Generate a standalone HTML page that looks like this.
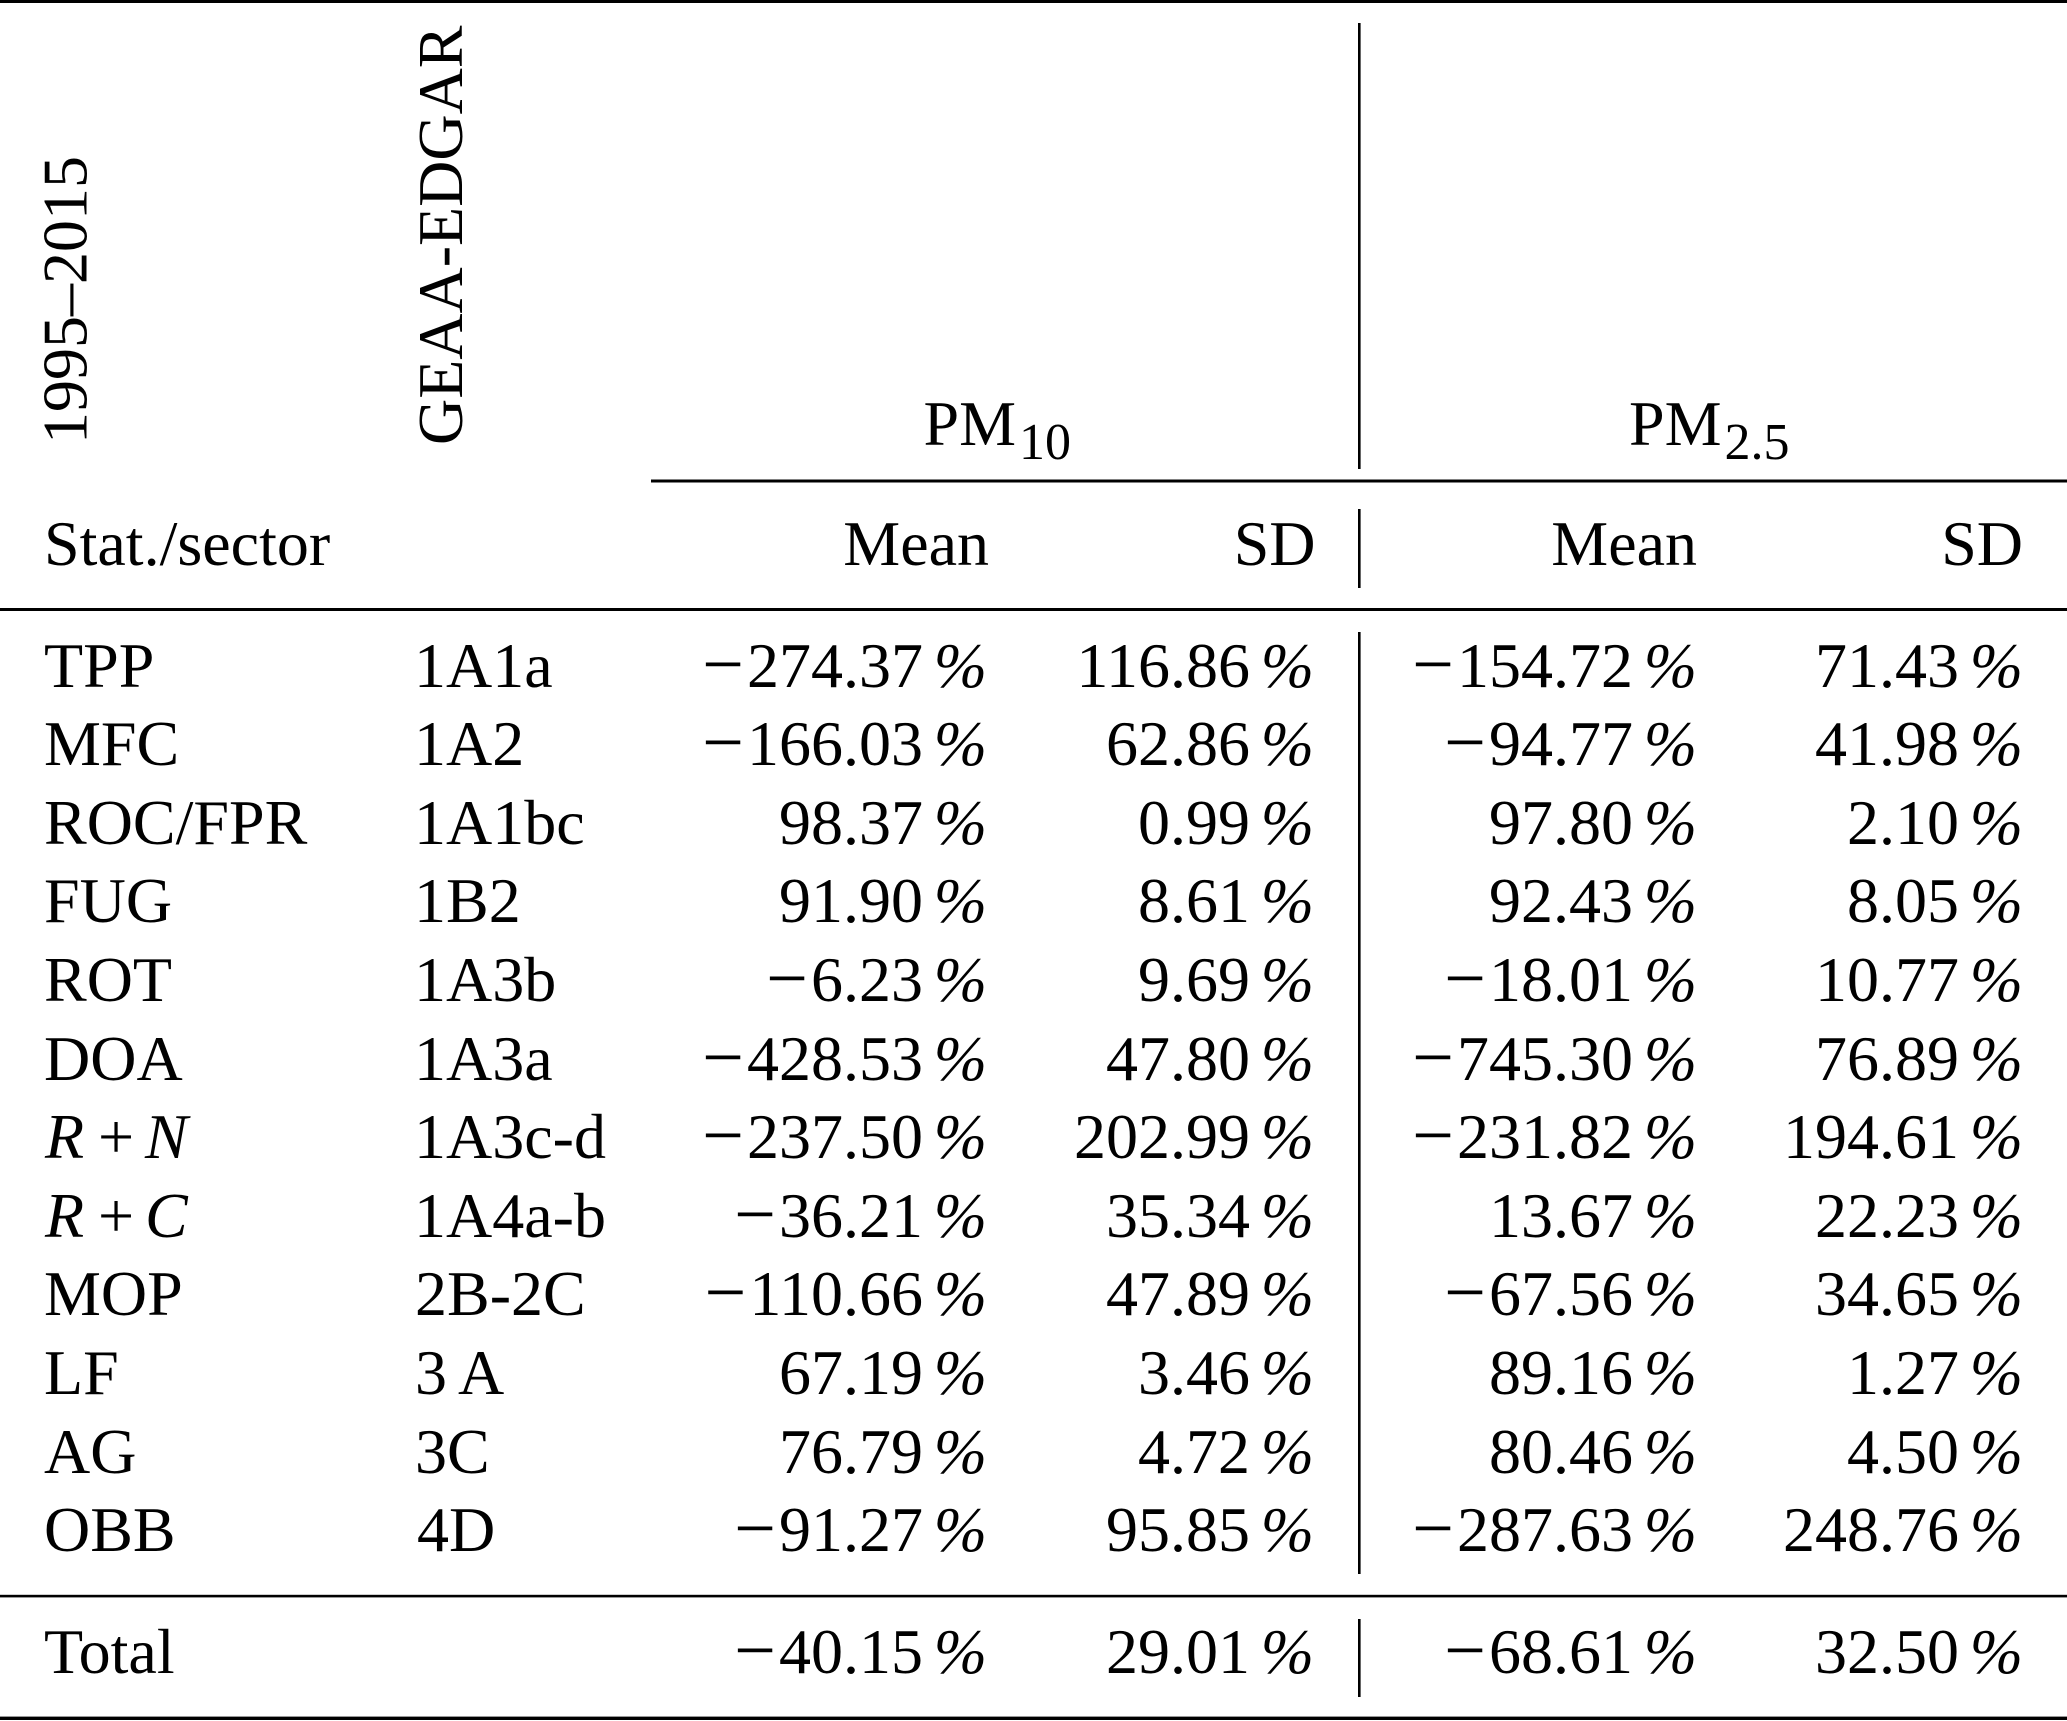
<!DOCTYPE html>
<html>
<head>
<meta charset="utf-8">
<style>
  html, body { margin: 0; padding: 0; background: #fff; }
  svg { display: block; }
  text { font-family: "Liberation Serif", "Times New Roman", serif; font-size: 64px; fill: #000; }
  .e { text-anchor: end; }
  .p { text-anchor: end; font-style: italic; }
  .i { font-style: italic; }
  .m { font-size: 74px; }
</style>
</head>
<body>
<svg width="2067" height="1721" viewBox="0 0 2067 1721" xmlns="http://www.w3.org/2000/svg">
  <!-- rules -->
  <rect x="0" y="0" width="2067" height="3" fill="#000"/>
  <rect x="651" y="479.5" width="1416" height="3" fill="#000"/>
  <rect x="0" y="608" width="2067" height="3" fill="#000"/>
  <rect x="0" y="1594.8" width="2067" height="2.6" fill="#000"/>
  <rect x="0" y="1716.6" width="2067" height="3.4" fill="#000"/>

  <!-- vertical separators -->
  <rect x="1358" y="23" width="2.6" height="446" fill="#000"/>
  <rect x="1358" y="509" width="2.6" height="79" fill="#000"/>
  <rect x="1358" y="632" width="2.6" height="942" fill="#000"/>
  <rect x="1358" y="1619" width="2.6" height="78" fill="#000"/>

  <!-- rotated headers -->
  <text transform="translate(86.7,444) rotate(-90)">1995–2015</text>
  <text transform="translate(462,445) rotate(-90)">GEAA-EDGAR</text>

  <!-- PM headers -->
  <text x="923.5" y="445">PM<tspan dx="3" dy="14" font-size="52">10</tspan></text>
  <text x="1629" y="445">PM<tspan dx="3" dy="14" font-size="52">2.5</tspan></text>

  <!-- column headers -->
  <text x="44" y="565">Stat./sector</text>
  <text class="e" x="989" y="565">Mean</text>
  <text class="e" x="1315.5" y="565">SD</text>
  <text class="e" x="1697" y="565">Mean</text>
  <text class="e" x="2023" y="565">SD</text>

  <!-- Row 1 TPP y=687 -->
  <text x="44" y="687">TPP</text>
  <text x="414" y="687">1A1a</text>
  <text class="e" x="923" y="687"><tspan class="m" dy="2">−</tspan><tspan dx="3" dy="-2">274.37</tspan></text><text class="p" x="987" y="687">%</text>
  <text class="e" x="1250" y="687">116.86</text><text class="p" x="1314" y="687">%</text>
  <text class="e" x="1633" y="687"><tspan class="m" dy="2">−</tspan><tspan dx="3" dy="-2">154.72</tspan></text><text class="p" x="1697" y="687">%</text>
  <text class="e" x="1959" y="687">71.43</text><text class="p" x="2023" y="687">%</text>

  <!-- Row 2 MFC y=765 -->
  <text x="44" y="765">MFC</text>
  <text x="414" y="765">1A2</text>
  <text class="e" x="923" y="765"><tspan class="m" dy="2">−</tspan><tspan dx="3" dy="-2">166.03</tspan></text><text class="p" x="987" y="765">%</text>
  <text class="e" x="1250" y="765">62.86</text><text class="p" x="1314" y="765">%</text>
  <text class="e" x="1633" y="765"><tspan class="m" dy="2">−</tspan><tspan dx="3" dy="-2">94.77</tspan></text><text class="p" x="1697" y="765">%</text>
  <text class="e" x="1959" y="765">41.98</text><text class="p" x="2023" y="765">%</text>

  <!-- Row 3 ROC/FPR y=844 -->
  <text x="44" y="844">ROC/FPR</text>
  <text x="414" y="844">1A1bc</text>
  <text class="e" x="923" y="844">98.37</text><text class="p" x="987" y="844">%</text>
  <text class="e" x="1250" y="844">0.99</text><text class="p" x="1314" y="844">%</text>
  <text class="e" x="1633" y="844">97.80</text><text class="p" x="1697" y="844">%</text>
  <text class="e" x="1959" y="844">2.10</text><text class="p" x="2023" y="844">%</text>

  <!-- Row 4 FUG y=922 -->
  <text x="44" y="922">FUG</text>
  <text x="414" y="922">1B2</text>
  <text class="e" x="923" y="922">91.90</text><text class="p" x="987" y="922">%</text>
  <text class="e" x="1250" y="922">8.61</text><text class="p" x="1314" y="922">%</text>
  <text class="e" x="1633" y="922">92.43</text><text class="p" x="1697" y="922">%</text>
  <text class="e" x="1959" y="922">8.05</text><text class="p" x="2023" y="922">%</text>

  <!-- Row 5 ROT y=1001 -->
  <text x="44" y="1001">ROT</text>
  <text x="414" y="1001">1A3b</text>
  <text class="e" x="923" y="1001"><tspan class="m" dy="2">−</tspan><tspan dx="3" dy="-2">6.23</tspan></text><text class="p" x="987" y="1001">%</text>
  <text class="e" x="1250" y="1001">9.69</text><text class="p" x="1314" y="1001">%</text>
  <text class="e" x="1633" y="1001"><tspan class="m" dy="2">−</tspan><tspan dx="3" dy="-2">18.01</tspan></text><text class="p" x="1697" y="1001">%</text>
  <text class="e" x="1959" y="1001">10.77</text><text class="p" x="2023" y="1001">%</text>

  <!-- Row 6 DOA y=1080 -->
  <text x="44" y="1080">DOA</text>
  <text x="414" y="1080">1A3a</text>
  <text class="e" x="923" y="1080"><tspan class="m" dy="2">−</tspan><tspan dx="3" dy="-2">428.53</tspan></text><text class="p" x="987" y="1080">%</text>
  <text class="e" x="1250" y="1080">47.80</text><text class="p" x="1314" y="1080">%</text>
  <text class="e" x="1633" y="1080"><tspan class="m" dy="2">−</tspan><tspan dx="3" dy="-2">745.30</tspan></text><text class="p" x="1697" y="1080">%</text>
  <text class="e" x="1959" y="1080">76.89</text><text class="p" x="2023" y="1080">%</text>

  <!-- Row 7 R+N y=1158 -->
  <text class="i" x="45" y="1158">R</text>
  <text x="98" y="1158">+</text>
  <text class="i" x="145" y="1158">N</text>
  <text x="414" y="1158">1A3c-d</text>
  <text class="e" x="923" y="1158"><tspan class="m" dy="2">−</tspan><tspan dx="3" dy="-2">237.50</tspan></text><text class="p" x="987" y="1158">%</text>
  <text class="e" x="1250" y="1158">202.99</text><text class="p" x="1314" y="1158">%</text>
  <text class="e" x="1633" y="1158"><tspan class="m" dy="2">−</tspan><tspan dx="3" dy="-2">231.82</tspan></text><text class="p" x="1697" y="1158">%</text>
  <text class="e" x="1959" y="1158">194.61</text><text class="p" x="2023" y="1158">%</text>

  <!-- Row 8 R+C y=1237 -->
  <text class="i" x="45" y="1237">R</text>
  <text x="98" y="1237">+</text>
  <text class="i" x="145" y="1237">C</text>
  <text x="414" y="1237">1A4a-b</text>
  <text class="e" x="923" y="1237"><tspan class="m" dy="2">−</tspan><tspan dx="3" dy="-2">36.21</tspan></text><text class="p" x="987" y="1237">%</text>
  <text class="e" x="1250" y="1237">35.34</text><text class="p" x="1314" y="1237">%</text>
  <text class="e" x="1633" y="1237">13.67</text><text class="p" x="1697" y="1237">%</text>
  <text class="e" x="1959" y="1237">22.23</text><text class="p" x="2023" y="1237">%</text>

  <!-- Row 9 MOP y=1315 -->
  <text x="44" y="1315">MOP</text>
  <text x="415" y="1315">2B-2C</text>
  <text class="e" x="923" y="1315"><tspan class="m" dy="2">−</tspan><tspan dx="3" dy="-2">110.66</tspan></text><text class="p" x="987" y="1315">%</text>
  <text class="e" x="1250" y="1315">47.89</text><text class="p" x="1314" y="1315">%</text>
  <text class="e" x="1633" y="1315"><tspan class="m" dy="2">−</tspan><tspan dx="3" dy="-2">67.56</tspan></text><text class="p" x="1697" y="1315">%</text>
  <text class="e" x="1959" y="1315">34.65</text><text class="p" x="2023" y="1315">%</text>

  <!-- Row 10 LF y=1394 -->
  <text x="44" y="1394">LF</text>
  <text x="415" y="1394">3<tspan dx="11">A</tspan></text>
  <text class="e" x="923" y="1394">67.19</text><text class="p" x="987" y="1394">%</text>
  <text class="e" x="1250" y="1394">3.46</text><text class="p" x="1314" y="1394">%</text>
  <text class="e" x="1633" y="1394">89.16</text><text class="p" x="1697" y="1394">%</text>
  <text class="e" x="1959" y="1394">1.27</text><text class="p" x="2023" y="1394">%</text>

  <!-- Row 11 AG y=1473 -->
  <text x="44" y="1473">AG</text>
  <text x="415" y="1473">3C</text>
  <text class="e" x="923" y="1473">76.79</text><text class="p" x="987" y="1473">%</text>
  <text class="e" x="1250" y="1473">4.72</text><text class="p" x="1314" y="1473">%</text>
  <text class="e" x="1633" y="1473">80.46</text><text class="p" x="1697" y="1473">%</text>
  <text class="e" x="1959" y="1473">4.50</text><text class="p" x="2023" y="1473">%</text>

  <!-- Row 12 OBB y=1551 -->
  <text x="44" y="1551">OBB</text>
  <text x="417" y="1551">4D</text>
  <text class="e" x="923" y="1551"><tspan class="m" dy="2">−</tspan><tspan dx="3" dy="-2">91.27</tspan></text><text class="p" x="987" y="1551">%</text>
  <text class="e" x="1250" y="1551">95.85</text><text class="p" x="1314" y="1551">%</text>
  <text class="e" x="1633" y="1551"><tspan class="m" dy="2">−</tspan><tspan dx="3" dy="-2">287.63</tspan></text><text class="p" x="1697" y="1551">%</text>
  <text class="e" x="1959" y="1551">248.76</text><text class="p" x="2023" y="1551">%</text>

  <!-- Total y=1673 -->
  <text x="44" y="1673">Total</text>
  <text class="e" x="923" y="1673"><tspan class="m" dy="2">−</tspan><tspan dx="3" dy="-2">40.15</tspan></text><text class="p" x="987" y="1673">%</text>
  <text class="e" x="1250" y="1673">29.01</text><text class="p" x="1314" y="1673">%</text>
  <text class="e" x="1633" y="1673"><tspan class="m" dy="2">−</tspan><tspan dx="3" dy="-2">68.61</tspan></text><text class="p" x="1697" y="1673">%</text>
  <text class="e" x="1959" y="1673">32.50</text><text class="p" x="2023" y="1673">%</text>
</svg>
</body>
</html>
